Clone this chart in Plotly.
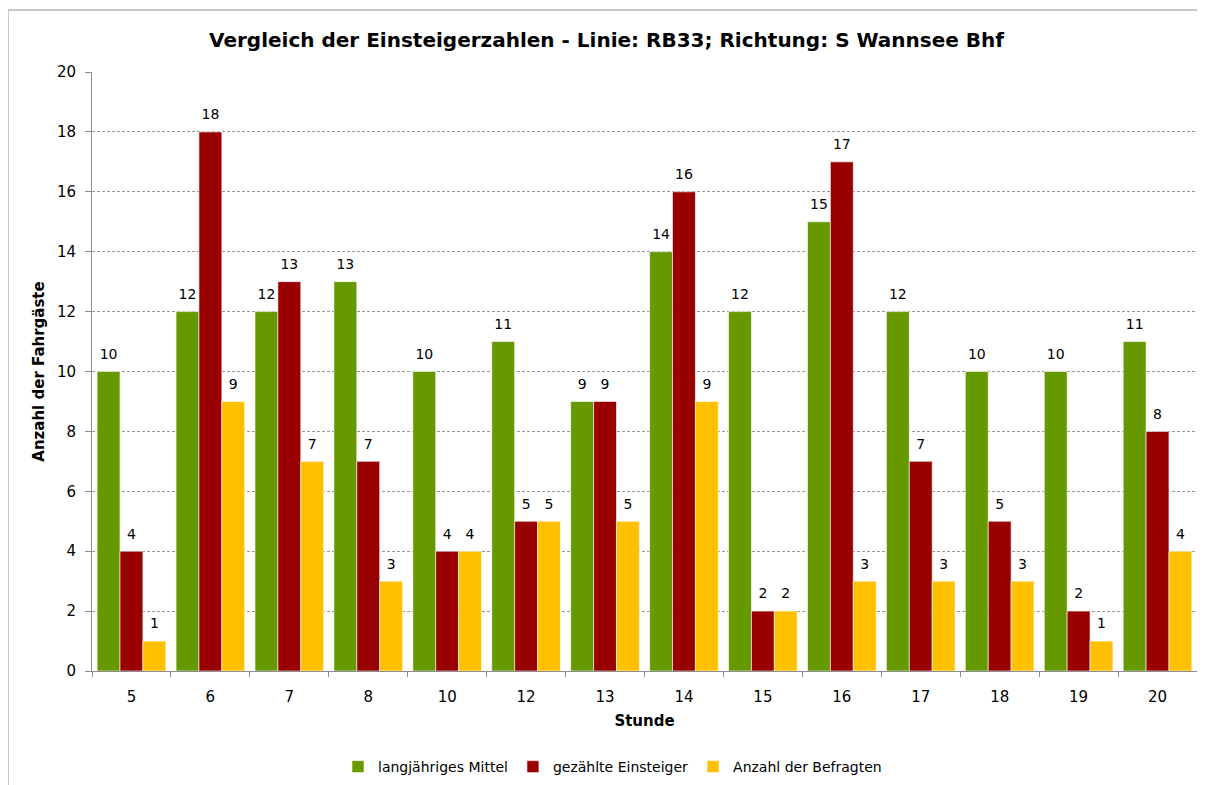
import plotly.graph_objects as go

# Stunde (Kategorien)
stunden = ["5", "6", "7", "8", "10", "12", "13", "14", "15", "16", "17", "18", "19", "20"]

# Werte je Serie
langj_mittel = [10, 12, 12, 13, 10, 11, 9, 14, 12, 15, 12, 10, 10, 11]
gezaehlte_einsteiger = [4, 18, 13, 7, 4, 5, 9, 16, 2, 17, 7, 5, 2, 8]
anzahl_befragten = [1, 9, 7, 3, 4, 5, 5, 9, 2, 3, 3, 3, 1, 4]

series = [
    ("langjähriges Mittel", langj_mittel, "#669900"),
    ("gezählte Einsteiger", gezaehlte_einsteiger, "#990000"),
    ("Anzahl der Befragten", anzahl_befragten, "#FFC000"),
]

FONT = "DejaVu Sans"

# page has an 8px body margin, so the figure is a bit smaller than the window
W, H = 1197, 777
L, R, T, B = 84, 1189, 64, 663
PW, PH = R - L, B - T

fig = go.Figure()
for i, (name, vals, col) in enumerate(series):
    fig.add_trace(go.Bar(
        x=stunden, y=vals, name=name, offsetgroup=str(i),
        marker=dict(color=col, line=dict(color="rgba(255,255,255,0.6)", width=1)),
    ))
for i, (name, vals, col) in enumerate(series):
    # value labels, placed above each bar
    fig.add_trace(go.Scatter(
        x=stunden, y=vals, offsetgroup=str(i), showlegend=False, hoverinfo="skip",
        mode="markers+text", marker=dict(size=13, color="rgba(0,0,0,0)"),
        text=[str(v) for v in vals], textposition="top center",
        textfont=dict(family=FONT, size=14, color="#000000"),
        cliponaxis=False,
    ))

fig.update_layout(
    width=W, height=H,
    paper_bgcolor="white", plot_bgcolor="white",
    font=dict(family=FONT, color="#000000"),
    barmode="group", bargap=0.13, bargroupgap=0,
    scattermode="group", scattergap=0.13,
    margin=dict(l=L, r=W - R, t=T, b=H - B, autoexpand=False),
    title=dict(
        text="<b>Vergleich der Einsteigerzahlen - Linie: RB33; Richtung: S Wannsee Bhf</b>",
        x=0.5, xanchor="center", y=1 - 32 / H, yanchor="middle",
        font=dict(family=FONT, size=20, color="#000000"),
    ),
    legend=dict(
        orientation="h", x=0.5 - 32 / PW, xanchor="center", y=(B - 759) / PH, yanchor="middle",
        font=dict(family=FONT, size=14), itemwidth=30, traceorder="normal",
    ),
    shapes=[dict(
        type="rect", xref="paper", yref="paper",
        x0=(0 - L) / PW, x1=1.05, y0=-0.3, y1=1 + (T - 2) / PH,
        line=dict(color="#c8c8c8", width=2), layer="below",
    )],
)

fig.update_xaxes(
    type="category", automargin=False,
    title=dict(text="<b>Stunde</b>", font=dict(family=FONT, size=15), standoff=10),
    tickfont=dict(family=FONT, size=15), ticklabelstandoff=12,
    showline=True, linecolor="#8c8c8c", linewidth=1,
    ticks="outside", tickson="boundaries", ticklen=5, tickcolor="#8c8c8c",
    showgrid=False,
)
fig.update_yaxes(
    range=[0, 20.0001], tickvals=list(range(0, 21, 2)), automargin=False,
    title=dict(text="<b>Anzahl der Fahrgäste</b>", font=dict(family=FONT, size=15), standoff=8),
    tickfont=dict(family=FONT, size=15), ticklabelstandoff=6,
    showline=True, linecolor="#8c8c8c", linewidth=1,
    ticks="outside", ticklen=6, tickcolor="#8c8c8c",
    showgrid=True, gridcolor="#999999", griddash="3px,2px", gridwidth=1,
    zeroline=False,
)

fig.write_html("out.html")
